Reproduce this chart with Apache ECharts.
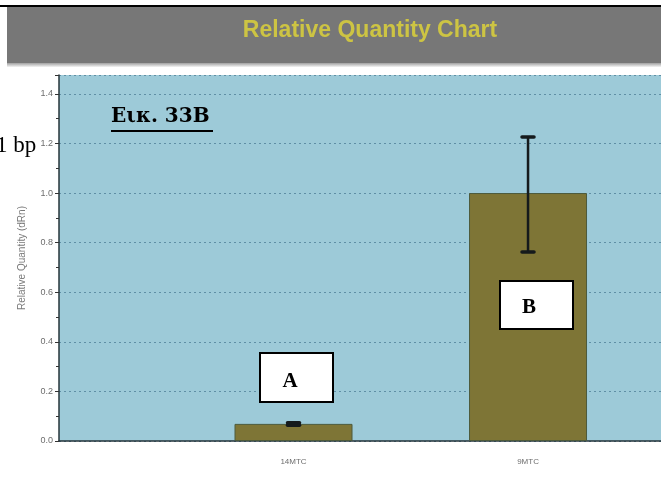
<!DOCTYPE html>
<html>
<head>
<meta charset="utf-8">
<script src="https://cdn.jsdelivr.net/npm/echarts@6/dist/echarts.min.js"></script>
<style>
html,body{margin:0;padding:0;background:#fff;overflow:hidden;}
#chart{width:661px;height:490px;}
</style>
</head>
<body>
<div id="chart"></div>
<script>
// ---- data ----
const samples = ['14MTC', '9MTC'];
const relQuantity = [0.069, 1.0];
const rqMin = [0.064, 0.762];
const rqMax = [0.074, 1.226];
const yTickLabels = ['0.0', '0.2', '0.4', '0.6', '0.8', '1.0', '1.2', '1.4'];
const titleText = 'Relative Quantity Chart';
const yAxisTitle = 'Relative Quantity (dRn)';
const figureLabel = 'Εικ. 33B';
const sampleMarks = ['A', 'B'];

// samples sit at positions 1, 2 of a slot axis (slot 0 = y-axis)
const slotPos = samples.map((s, i) => i + 1);
const barData = samples.map((s, i) => [slotPos[i], relQuantity[i]]);
const errData = samples.map((s, i) => [slotPos[i], rqMin[i], rqMax[i]]);

const chart = echarts.init(document.getElementById('chart'), null, {renderer: 'canvas'});

const option = {
  animation: false,
  backgroundColor: '#ffffff',
  grid: {
    left: 59, top: 75, bottom: 49, right: 0,
    show: true, backgroundColor: '#9dcad8', borderWidth: 0
  },
  xAxis: {
    type: 'value',
    min: 0, max: 2.567, interval: 1,
    axisLine: {lineStyle: {color: '#26343a', width: 1.5}},
    axisTick: {show: true, length: 4, inside: true, lineStyle: {color: '#8aa'}},
    axisLabel: {
      color: '#6d6d6d', fontSize: 8, margin: 17, fontFamily: 'Liberation Sans',
      showMinLabel: false, showMaxLabel: false,
      formatter: function (v) {
        const i = slotPos.indexOf(Math.round(v));
        return i >= 0 && Math.abs(Math.round(v) - v) < 1e-6 ? samples[i] : '';
      }
    },
    splitLine: {show: false}
  },
  yAxis: {
    type: 'value',
    min: 0, max: 1.476, interval: 0.2,
    name: yAxisTitle,
    nameLocation: 'middle',
    nameGap: 32,
    nameRotate: 90,
    nameTextStyle: {color: '#7a7a7a', fontSize: 10, fontFamily: 'Liberation Sans'},
    axisLine: {show: true, lineStyle: {color: '#26343a', width: 1.5}},
    axisTick: {show: true, length: 4, lineStyle: {color: '#333'}},
    minorTick: {show: true, splitNumber: 2, length: 3, lineStyle: {color: '#333'}},
    axisLabel: {
      color: '#6d6d6d', fontSize: 9, margin: 6, fontFamily: 'Liberation Sans',
      showMaxLabel: false,
      formatter: function (v) {
        const idx = Math.round(v / 0.2);
        return Math.abs(idx * 0.2 - v) < 1e-6 && yTickLabels[idx] ? yTickLabels[idx] : '';
      }
    },
    splitLine: {show: true, lineStyle: {color: '#5f8fa5', type: [2, 3], width: 1.2}}
  },
  series: [
    {
      type: 'bar',
      data: barData,
      barWidth: 118,
      itemStyle: {color: '#7e7536', borderColor: '#4d5a3c', borderWidth: 1},
      z: 2
    },
    {
      type: 'custom',
      data: errData,
      z: 3,
      renderItem: function (params, api) {
        const x = api.value(0);
        const pHi = api.coord([x, api.value(2)]);
        const pLo = api.coord([x, api.value(1)]);
        const hw = 6;
        return {
          type: 'group',
          children: [
            {type: 'line', shape: {x1: pHi[0], y1: pHi[1], x2: pLo[0], y2: pLo[1]}, style: {stroke: '#151a1c', lineWidth: 2.5}},
            {type: 'line', shape: {x1: pHi[0] - hw, y1: pHi[1], x2: pHi[0] + hw, y2: pHi[1]}, style: {stroke: '#151a1c', lineWidth: 3.5, lineCap: 'round'}},
            {type: 'line', shape: {x1: pLo[0] - hw, y1: pLo[1], x2: pLo[0] + hw, y2: pLo[1]}, style: {stroke: '#151a1c', lineWidth: 3.5, lineCap: 'round'}}
          ]
        };
      }
    }
  ],
  graphic: [
    // header band
    {type: 'rect', shape: {x: 0, y: 5, width: 661, height: 2}, style: {fill: '#000'}, z: 10},
    {type: 'rect', shape: {x: 7, y: 7, width: 654, height: 57}, style: {fill: '#777777'}, z: 10},
    {type: 'rect', shape: {x: 7, y: 63, width: 654, height: 4},
      style: {fill: new echarts.graphic.LinearGradient(0, 0, 0, 1, [{offset: 0, color: '#a0a0a0'}, {offset: 1, color: '#f4f4f4'}])}, z: 10},
    {type: 'text', x: 370, y: 31, z: 11,
      style: {text: titleText, fill: '#cdc443', font: 'bold 23px "Liberation Sans Narrow", "Liberation Sans", sans-serif', align: 'center', verticalAlign: 'middle'}},
    // fragment text at the left
    {type: 'text', x: -4, y: 146, z: 11,
      style: {text: '1 bp', fill: '#000', font: '23px "Liberation Serif", serif', align: 'left', verticalAlign: 'middle'}},
    // figure label
    {type: 'text', x: 111, y: 117, z: 11,
      style: {text: figureLabel, fill: '#000', font: 'bold 20px "DejaVu Serif", serif', align: 'left', verticalAlign: 'middle'}},
    {type: 'rect', shape: {x: 111, y: 130, width: 102, height: 2}, style: {fill: '#000'}, z: 11},
    // sample marks
    {type: 'rect', shape: {x: 260, y: 353, width: 73, height: 49}, style: {fill: '#fff', stroke: '#000', lineWidth: 2}, z: 11},
    {type: 'text', x: 290, y: 382, z: 12,
      style: {text: sampleMarks[0], fill: '#000', font: 'bold 21px "Liberation Serif", serif', align: 'center', verticalAlign: 'middle'}},
    {type: 'rect', shape: {x: 500, y: 281, width: 73, height: 48}, style: {fill: '#fff', stroke: '#000', lineWidth: 2}, z: 11},
    {type: 'text', x: 529, y: 308, z: 12,
      style: {text: sampleMarks[1], fill: '#000', font: 'bold 21px "Liberation Serif", serif', align: 'center', verticalAlign: 'middle'}}
  ]
};

chart.setOption(option);
</script>
</body>
</html>
